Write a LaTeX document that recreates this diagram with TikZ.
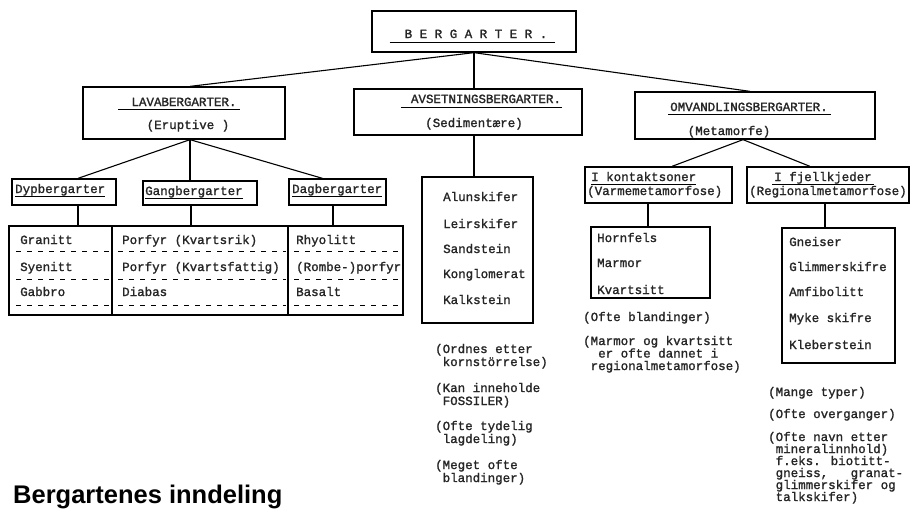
\documentclass[tikz,border=0pt]{standalone}
\usepackage{fontspec}
\newfontfamily\tw[FakeBold=1.4]{Liberation Mono}
\newfontfamily\ttl{Liberation Sans}
\newcommand\stk[2][13pt]{\vtop{\baselineskip=#1\lineskiplimit=-20pt\lineskip=0pt #2}}
\begin{document}
\begin{tikzpicture}[x=1pt,y=-1pt,
  tx/.style={font=\tw\fontsize{12.5}{13}\selectfont, inner sep=0pt, anchor=base west, text=black!85},
  txc/.style={tx, anchor=base},
  bx/.style={draw, line width=1.3pt, inner sep=0pt},
  ln/.style={line width=1.1pt},
  ul/.style={line width=0.8pt},
  dsh/.style={line width=0.8pt, dash pattern=on 5pt off 6pt}]
\useasboundingbox[fill=white] (0,0) rectangle (911,512);

% ---- boxes ----
\node[bx, minimum width=204, minimum height=41] (berg) at (474,31.5) {};
\node[bx, minimum width=202, minimum height=52] (lava) at (184,113) {};
\node[bx, minimum width=228, minimum height=46] (avs) at (468,112) {};
\node[bx, minimum width=240, minimum height=47] (omv) at (755,115.5) {};
\node[bx, minimum width=104, minimum height=26] (dyp) at (64,192) {};
\node[bx, minimum width=114, minimum height=24] (gang) at (200,193) {};
\node[bx, minimum width=97, minimum height=26] (dag) at (337.5,192) {};
\node[bx, minimum width=103, minimum height=89] (col1) at (60.5,270.5) {};
\node[bx, minimum width=176, minimum height=89] (col2) at (200,270.5) {};
\node[bx, minimum width=115, minimum height=89] (col3) at (345.5,270.5) {};
\node[bx, minimum width=111, minimum height=146] (sed) at (477.5,250) {};
\node[bx, minimum width=147, minimum height=36] (kon) at (658.5,185) {};
\node[bx, minimum width=162, minimum height=36] (fje) at (828,185) {};
\node[bx, minimum width=119, minimum height=71] (horn) at (650.5,262.5) {};
\node[bx, minimum width=113, minimum height=135] (gne) at (838.5,295.5) {};

% ---- connectors ----
\draw[ln] (berg.south) -- ([xshift=6pt]lava.north);
\draw[ln] (berg.south) -- ([xshift=6pt]avs.north);
\draw[ln] (berg.south) -- ([xshift=-5pt]omv.north);
\draw[ln] ([xshift=6pt]lava.south) -- ([xshift=14pt]dyp.north);
\draw[ln] ([xshift=6pt]lava.south) -- ([xshift=-10pt]gang.north);
\draw[ln] ([xshift=6pt]lava.south) -- ([xshift=-15pt]dag.north);
\draw[ln] ([xshift=14pt]dyp.south) -- ([xshift=17.5pt]col1.north);
\draw[ln] ([xshift=-9pt]gang.south) -- ([xshift=-9pt]col2.north);
\draw[ln] ([xshift=-4.5pt]dag.south) -- ([xshift=-12.5pt]col3.north);
\draw[ln] ([xshift=6pt]avs.south) -- ([xshift=-3.5pt]sed.north);
\draw[ln] ([xshift=-12pt]omv.south) -- ([xshift=13.5pt]kon.north);
\draw[ln] ([xshift=-12pt]omv.south) -- ([xshift=-18pt]fje.north);
\draw[ln] ([xshift=-10.5pt]kon.south) -- ([xshift=-2.5pt]horn.north);
\draw[ln] ([xshift=-3pt]fje.south) -- ([xshift=-13.5pt]gne.north);

% ---- headings ----
\node[txc] (bergt) at (476,38) {B E R G A R T E R .};
\draw[ul] ([xshift=-15pt,yshift=-4pt]bergt.base west) -- ([xshift=8pt,yshift=-4pt]bergt.base east);
\node[txc] (lavat) at (184,106) {LAVABERGARTER.};
\draw[ul] ([xshift=-13pt,yshift=-3pt]lavat.base west) -- ([xshift=3pt,yshift=-3pt]lavat.base east);
\node[txc] (lavas) at (188,129) {(Eruptive )};
\node[txc] (avst) at (486,103) {AVSETNINGSBERGARTER.};
\draw[ul] ([xshift=-10pt,yshift=-4pt]avst.base west) -- ([xshift=1pt,yshift=-4pt]avst.base east);
\node[txc] (avss) at (474,127) {(Sedimentære)};
\node[txc] (omvt) at (749,111) {OMVANDLINGSBERGARTER.};
\draw[ul] ([xshift=-2pt,yshift=-3pt]omvt.base west) -- ([xshift=3pt,yshift=-3pt]omvt.base east);
\node[txc] (omvs) at (729,135) {(Metamorfe)};
\node[tx] (kont) at (591,181) {I kontaktsoner};
\draw[ul] ([yshift=-3pt]kont.base west) -- ([yshift=-3pt]kont.base east);
\node[tx] (kons) at (587,195) {(Varmemetamorfose)};
\node[txc] (fjet) at (823,181) {I fjellkjeder};
\draw[ul] ([xshift=-2pt,yshift=-3pt]fjet.base west) -- ([xshift=2pt,yshift=-3pt]fjet.base east);
\node[tx] (fjes) at (749,195) {(Regionalmetamorfose)};
\node[tx] (dypt) at (15,193) {Dypbergarter};
\draw[ul] ([yshift=-3.5pt]dypt.base west) -- ([yshift=-3.5pt]dypt.base east);
\node[tx] (gangt) at (145,195) {Gangbergarter};
\draw[ul] ([yshift=-3.5pt]gangt.base west) -- ([yshift=-3.5pt]gangt.base east);
\node[tx] (dagt) at (292,193) {Dagbergarter};
\draw[ul] ([yshift=-3.5pt]dagt.base west) -- ([yshift=-3.5pt]dagt.base east);

% ---- table ----
\node[tx] (g1) at (20,244) {Granitt};
\node[tx] (g2) at (20,271) {Syenitt};
\node[tx] (g3) at (20,296) {Gabbro};
\node[tx] (p1) at (122,244) {Porfyr (Kvartsrik)};
\node[tx] (p2) at (122,271) {Porfyr (Kvartsfattig)};
\node[tx] (p3) at (122,296) {Diabas};
\node[tx] (r1) at (296,244) {Rhyolitt};
\node[tx] (r2) at (296,271) {(Rombe-)porfyr};
\node[tx] (r3) at (296,296) {Basalt};
\foreach \yy in {251,279,305}{
  \draw[dsh] (16,\yy) -- (110,\yy);
  \draw[dsh] (118,\yy) -- (286,\yy);
  \draw[dsh] (294,\yy) -- (400,\yy);
}

% ---- lists ----
\node[tx] (s1) at (443,201) {Alunskifer};
\node[tx] (s2) at (443,228) {Leirskifer};
\node[tx] (s3) at (443,253) {Sandstein};
\node[tx] (s4) at (443,278) {Konglomerat};
\node[tx] (s5) at (443,304) {Kalkstein};
\node[tx] (h1) at (597,242) {Hornfels};
\node[tx] (h2) at (597,267) {Marmor};
\node[tx] (h3) at (597,294) {Kvartsitt};
\node[tx] (n1) at (789,246) {Gneiser};
\node[tx] (n2) at (789,271) {Glimmerskifre};
\node[tx] (n3) at (789,296) {Amfibolitt};
\node[tx] (n4) at (789,322) {Myke skifre};
\node[tx] (n5) at (789,349) {Kleberstein};

% ---- notes ----
\node[tx] (a1) at (435,353) {\stk{\hbox{(Ordnes etter}\hbox{\ kornstörrelse)}}};
\node[tx] (a2) at (435,392) {\stk{\hbox{(Kan inneholde}\hbox{\ FOSSILER)}}};
\node[tx] (a3) at (435,430) {\stk{\hbox{(Ofte tydelig}\hbox{\ lagdeling)}}};
\node[tx] (a4) at (435,469) {\stk{\hbox{(Meget ofte}\hbox{\ blandinger)}}};
\node[tx] (b1) at (583,321) {(Ofte blandinger)};
\node[tx] (b2) at (583,345) {\stk[12.5pt]{\hbox{(Marmor og kvartsitt}\hbox{\ \ er ofte dannet i}\hbox{\ regionalmetamorfose)}}};
\node[tx] (c1) at (768,396) {(Mange typer)};
\node[tx] (c2) at (768,418) {(Ofte overganger)};
\node[tx] (c3) at (768,441) {\stk[12pt]{\hbox{(Ofte navn etter}\hbox{\ mineralinnhold)}\hbox{\ f.eks. biotitt-}\hbox{\ gneiss,\ \ \ granat-}\hbox{\ glimmerskifer og}\hbox{\ talkskifer)}}};

% ---- title ----
\node[inner sep=0pt, anchor=base west, font=\ttl\bfseries\fontsize{25.5}{28}\selectfont] (title) at (13,503) {Bergartenes inndeling};
\end{tikzpicture}
\end{document}
